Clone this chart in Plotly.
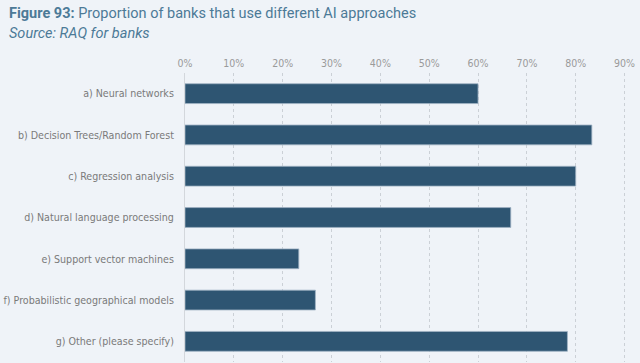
import plotly.graph_objects as go

categories = [
    "a) Neural networks",
    "b) Decision Trees/Random Forest",
    "c) Regression analysis",
    "d) Natural language processing",
    "e) Support vector machines",
    "f) Probabilistic geographical models",
    "g) Other (please specify)",
]
values = [60.0, 83.3, 80.0, 66.7, 23.3, 26.7, 78.3]
tick_vals = [0, 10, 20, 30, 40, 50, 60, 70, 80, 90]
tick_text = [f"{v}%" for v in tick_vals]

FONT = "DejaVu Sans Condensed, Roboto, sans-serif"
BG = "#eff3f8"
W, H = 640, 363
ML, MR, MT, MB = 185, 13, 73, 1
PW, PH = W - ML - MR, H - MT - MB

fig = go.Figure(go.Bar(
    x=values,
    y=categories,
    orientation="h",
    width=0.48,
    marker=dict(color="#2e5572", line=dict(color="#9fb3c4", width=0.8)),
    hoverinfo="skip",
))

fig.update_layout(
    width=W, height=H,
    paper_bgcolor=BG, plot_bgcolor=BG,
    margin=dict(l=ML, r=MR, t=MT, b=MB),
    showlegend=False,
    font=dict(family=FONT, color="#7a7a7a", size=11),
    annotations=[
        dict(text="<b>Figure 93:</b> Proportion of banks that use different AI approaches",
             xref="paper", yref="paper", x=(7 - ML) / PW, y=(PH + MT - 14) / PH,
             xanchor="left", yanchor="middle", showarrow=False,
             font=dict(family="Roboto, sans-serif", size=14.5, color="#4c7a97")),
        dict(text="<i>Source: RAQ for banks</i>",
             xref="paper", yref="paper", x=(7 - ML) / PW, y=(PH + MT - 33) / PH,
             xanchor="left", yanchor="middle", showarrow=False,
             font=dict(family="Roboto, sans-serif", size=14.5, color="#4c7a97")),
    ],
)

fig.update_xaxes(
    side="top",
    range=[0, 90.5],
    tickvals=tick_vals,
    ticktext=tick_text,
    showgrid=True,
    gridcolor="#cbd0d6",
    griddash="3px,3px",
    gridwidth=1,
    zeroline=False,
    showline=False,
    ticks="",
    ticklabelstandoff=3,
    automargin=False,
    tickfont=dict(family=FONT, size=10.5, color="#9a9a9a"),
    fixedrange=True,
)
fig.update_yaxes(
    autorange=False,
    range=[6.5, -0.5],
    showgrid=False,
    showline=True,
    linecolor="#d3d7dc",
    linewidth=1,
    ticks="",
    ticklabelstandoff=8,
    automargin=False,
    tickfont=dict(family=FONT, size=10.6, color="#7a7a7a"),
    fixedrange=True,
)

fig.write_html("out.html", config={"displayModeBar": False, "staticPlot": True})

# remove the browser's default page margin so the figure sits at (0, 0)
with open("out.html", encoding="utf-8") as f:
    html = f.read()
html = html.replace("<head>", "<head><style>html,body{margin:0;padding:0;overflow:hidden;}</style>", 1)
with open("out.html", "w", encoding="utf-8") as f:
    f.write(html)
